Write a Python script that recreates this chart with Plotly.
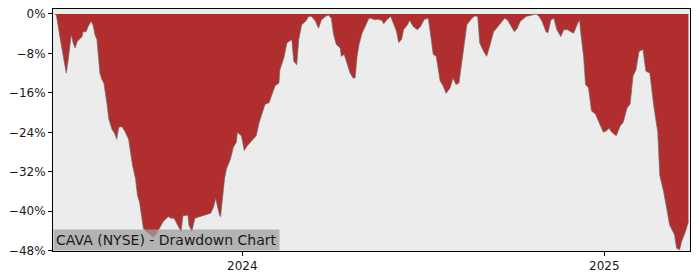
import plotly.graph_objects as go

dates = [
    "2023-06-25", "2023-06-27", "2023-07-01", "2023-07-06", "2023-07-07", "2023-07-09",
    "2023-07-12", "2023-07-14", "2023-07-16", "2023-07-18", "2023-07-20", "2023-07-23",
    "2023-07-24", "2023-07-27", "2023-07-29", "2023-08-01", "2023-08-03", "2023-08-05",
    "2023-08-07", "2023-08-10", "2023-08-12", "2023-08-14", "2023-08-17", "2023-08-19",
    "2023-08-22", "2023-08-25", "2023-08-27", "2023-08-29", "2023-09-01", "2023-09-04",
    "2023-09-08", "2023-09-10", "2023-09-12", "2023-09-15", "2023-09-17", "2023-09-19",
    "2023-09-21", "2023-09-23", "2023-09-26", "2023-09-30", "2023-10-03", "2023-10-06",
    "2023-10-09", "2023-10-13", "2023-10-18", "2023-10-21", "2023-10-24", "2023-10-28",
    "2023-10-31", "2023-11-02", "2023-11-07", "2023-11-08", "2023-11-11", "2023-11-14",
    "2023-11-19", "2023-11-25", "2023-11-30", "2023-12-03", "2023-12-05", "2023-12-09",
    "2023-12-10", "2023-12-14", "2023-12-16", "2023-12-20", "2023-12-23", "2023-12-26",
    "2023-12-27", "2023-12-31", "2024-01-03", "2024-01-06", "2024-01-12", "2024-01-15",
    "2024-01-18", "2024-01-22", "2024-01-24", "2024-01-28", "2024-01-31", "2024-02-03",
    "2024-02-07", "2024-02-08", "2024-02-12", "2024-02-15", "2024-02-20", "2024-02-22",
    "2024-02-25", "2024-02-27", "2024-03-01", "2024-03-05", "2024-03-08", "2024-03-11",
    "2024-03-15", "2024-03-18", "2024-03-21", "2024-03-25", "2024-03-28", "2024-03-31",
    "2024-04-02", "2024-04-05", "2024-04-09", "2024-04-10", "2024-04-13", "2024-04-16",
    "2024-04-19", "2024-04-22", "2024-04-24", "2024-04-26", "2024-04-28", "2024-05-01",
    "2024-05-04", "2024-05-08", "2024-05-10", "2024-05-14", "2024-05-17", "2024-05-21",
    "2024-05-23", "2024-05-26", "2024-05-30", "2024-06-02", "2024-06-05", "2024-06-07",
    "2024-06-10", "2024-06-12", "2024-06-16", "2024-06-18", "2024-06-22", "2024-06-26",
    "2024-06-29", "2024-07-03", "2024-07-07", "2024-07-10", "2024-07-12", "2024-07-15",
    "2024-07-19", "2024-07-22", "2024-07-25", "2024-07-29", "2024-08-01", "2024-08-04",
    "2024-08-07", "2024-08-10", "2024-08-13", "2024-08-15", "2024-08-20", "2024-08-23",
    "2024-08-26", "2024-08-28", "2024-09-01", "2024-09-04", "2024-09-07", "2024-09-11",
    "2024-09-14", "2024-09-18", "2024-09-22", "2024-09-25", "2024-09-28", "2024-10-02",
    "2024-10-05", "2024-10-08", "2024-10-14", "2024-10-19", "2024-10-24", "2024-10-27",
    "2024-10-30", "2024-11-03", "2024-11-05", "2024-11-08", "2024-11-11", "2024-11-14",
    "2024-11-18", "2024-11-21", "2024-11-25", "2024-11-28", "2024-12-01", "2024-12-05",
    "2024-12-07", "2024-12-08", "2024-12-11", "2024-12-13", "2024-12-16", "2024-12-19",
    "2024-12-23", "2024-12-26", "2024-12-31", "2025-01-03", "2025-01-06", "2025-01-08",
    "2025-01-13", "2025-01-17", "2025-01-20", "2025-01-24", "2025-01-27", "2025-01-30",
    "2025-02-02", "2025-02-05", "2025-02-09", "2025-02-12", "2025-02-16", "2025-02-20",
    "2025-02-24", "2025-02-26", "2025-03-02", "2025-03-05", "2025-03-08", "2025-03-13",
    "2025-03-15", "2025-03-18", "2025-03-20", "2025-03-24", "2025-03-27",
]

drawdown_pct = [
    0.0, -0.2, -5.2, -10.6, -12.0, -9.3,
    -4.2, -5.9, -6.9, -5.6, -5.2, -4.6,
    -3.6, -3.6, -2.6, -1.5, -2.2, -4.2,
    -5.2, -12.0, -13.3, -14.0, -18.0, -21.3,
    -23.3, -24.3, -25.4, -23.0, -22.8, -23.7,
    -25.4, -28.0, -30.7, -33.4, -36.8, -38.1,
    -41.4, -43.5, -44.1, -44.8, -45.3, -44.6,
    -43.6, -42.1, -41.1, -41.4, -41.4, -42.8,
    -44.1, -40.9, -40.8, -42.8, -44.1, -41.4,
    -41.1, -40.8, -40.4, -39.1, -37.4, -40.8,
    -41.1, -33.4, -31.4, -29.4, -27.0, -26.0,
    -24.0, -24.7, -27.7, -26.7, -25.4, -24.7,
    -22.0, -19.3, -18.3, -18.0, -16.3, -14.6,
    -14.0, -11.3, -8.9, -5.9, -5.2, -9.6,
    -10.3, -5.2, -2.2, -1.5, -0.5, -0.5,
    -1.5, -2.9, -1.2, -0.5, -0.2, -0.9,
    -3.9, -6.2, -6.9, -8.6, -8.2, -9.9,
    -12.0, -13.0, -13.0, -8.6, -6.2, -3.9,
    -2.6, -0.9, -0.9, -1.2, -1.1, -1.3,
    -2.0, -1.2, -0.5, -1.9, -3.6, -5.8,
    -5.2, -3.2, -2.2, -1.3, -2.6, -3.2,
    -2.6, -1.1, -0.9, -5.2, -8.2, -8.6,
    -13.6, -14.6, -16.1, -15.0, -13.0, -14.3,
    -14.0, -9.6, -5.2, -2.2, -0.9, -0.4,
    -0.5, -5.9, -7.6, -8.6, -6.6, -3.6,
    -2.9, -1.9, -0.9, -1.2, -2.2, -3.6,
    -2.9, -1.5, -0.5, -0.2, 0.0, -0.5,
    -1.5, -3.6, -3.8, -1.2, -0.9, -3.2,
    -4.6, -3.2, -3.2, -3.6, -3.9, -1.9,
    -1.3, -3.6, -8.6, -14.3, -15.0, -19.7,
    -20.3, -21.7, -24.0, -23.7, -23.2, -23.9,
    -24.7, -22.7, -22.0, -19.0, -18.3, -12.6,
    -11.3, -7.6, -7.2, -11.6, -12.0, -18.7,
    -24.0, -32.7, -36.1, -39.4, -42.8, -44.8,
    -47.5, -47.8, -46.2, -44.1, -42.1,
]

y_tick_values = [0, -8, -16, -24, -32, -40, -48]
y_tick_labels = ["0%", "\u22128%", "\u221216%", "\u221224%", "\u221232%", "\u221240%", "\u221248%"]
x_tick_values = ["2024-01-01", "2025-01-01"]
x_tick_labels = ["2024", "2025"]
title_text = "CAVA (NYSE) - Drawdown Chart"

fig = go.Figure()
fig.add_trace(go.Scatter(
    x=dates, y=drawdown_pct, mode="lines",
    fill="tozeroy", fillcolor="rgb(176,46,46)",
    line=dict(color="rgba(110,110,110,0.7)", width=1),
    hoverinfo="skip", showlegend=False,
))

fig.add_annotation(
    text=title_text, xref="paper", yref="paper", x=0, y=0,
    xanchor="left", yanchor="bottom", showarrow=False,
    font=dict(family="DejaVu Sans", size=14, color="#1a1a1a"),
    bgcolor="rgba(160,160,160,0.75)", borderpad=2,
)

axis_common = dict(
    showline=True, linecolor="black", linewidth=1, mirror=True,
    showgrid=False, zeroline=False, ticks="outside", ticklen=4,
    tickcolor="black", tickwidth=1,
    tickfont=dict(family="DejaVu Sans", size=12, color="#1a1a1a"),
)

fig.update_xaxes(
    range=["2023-06-23 14:00", "2025-03-28 14:00"],
    tickmode="array", tickvals=x_tick_values, ticktext=x_tick_labels,
    **axis_common,
)
fig.update_yaxes(
    range=[-48.06, 1.0],
    tickmode="array", tickvals=y_tick_values, ticktext=y_tick_labels,
    **axis_common,
)

fig.update_layout(
    width=700, height=280,
    margin=dict(l=53, r=10, t=7, b=28),
    paper_bgcolor="white", plot_bgcolor="#ececec",
    hovermode=False,
)

fig.write_html("out.html")
